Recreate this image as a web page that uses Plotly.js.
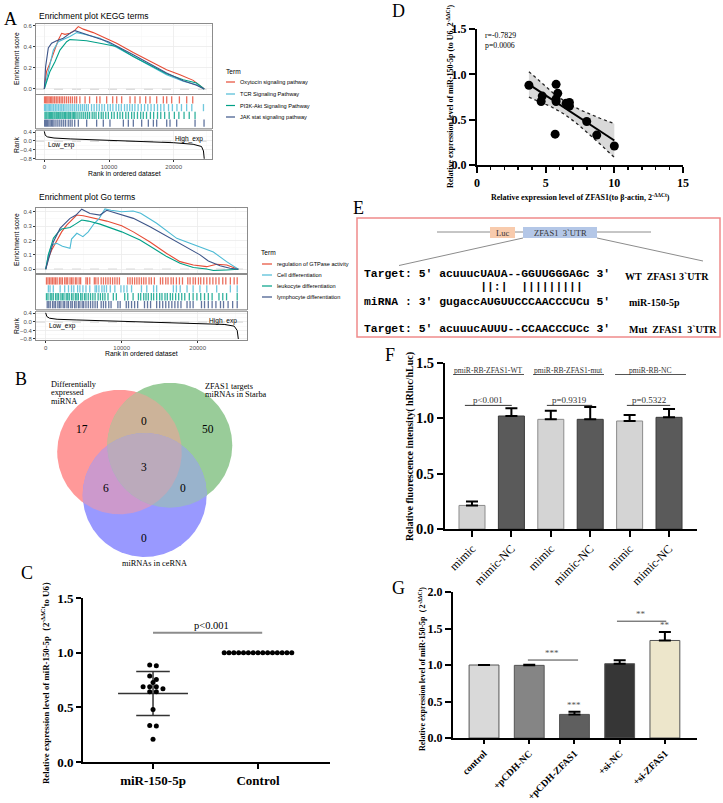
<!DOCTYPE html>
<html><head><meta charset="utf-8">
<script src="https://cdn.plot.ly/plotly-3.0.1.min.js"></script>
<style>html,body{margin:0;padding:0;background:#fff}#chart{width:723px;height:803px}</style>
</head><body><div id="chart"></div>
<script>
// ================= DATA =================
// Panel A - KEGG running enrichment scores (rank, ES)
const keggTerms = ['Oxytocin signaling pathway','TCR Signaling Pathway','PI3K-Akt Signaling Pathway','JAK stat signaling pathway'];
const keggOxyX = [0,350,875,1390,2160,2680,3190,3960,4740,5250,6030,7570,9890,11175,13750,16325,18900,20960,23020,24050,24720];
const keggOxyY = [0,0.167,0.246,0.34,0.467,0.53,0.52,0.53,0.56,0.594,0.57,0.537,0.467,0.436,0.347,0.262,0.183,0.136,0.082,0.032,0];
const keggTcrX = [0,360,875,1390,2160,2935,3960,5000,6030,8600,9890,13750,16325,18900,21475,23535,24720];
const keggTcrY = [0,0.10,0.21,0.37,0.45,0.47,0.50,0.537,0.524,0.483,0.44,0.31,0.22,0.136,0.073,0.04,0];
const keggPi3kX = [0,360,875,1650,2420,3450,3960,5000,6540,8600,9890,11175,13750,16325,18900,21475,23535,24720];
const keggPi3kY = [0,0.073,0.167,0.26,0.37,0.45,0.47,0.467,0.46,0.436,0.42,0.404,0.31,0.23,0.145,0.088,0.057,0];
const keggJakX = [0,200,620,1130,1900,2935,3960,4740,5500,7570,9890,13750,16325,18900,21475,23535,24720];
const keggJakY = [0,0.21,0.39,0.436,0.46,0.483,0.53,0.556,0.54,0.50,0.45,0.325,0.24,0.152,0.079,0.035,0];
// hit positions (thousands of ranks)
const keggHitsOxy = [0.04,0.2,0.38,0.56,0.75,0.95,1.15,1.35,1.6,1.85,2.1,2.35,2.6,2.85,3.15,3.45,3.75,4.05,4.35,4.7,5.0,5.5,6.3,7.0,8.09,8.6,9.64,10.57,11.19,11.96,13.25,14.02,14.79,15.67,16.34,17.37,18.4,18.92,19.69,20.88,22.01,22.94];
const keggHitsTcr = [0.04,0.2,0.4,0.6,0.8,1.0,1.2,1.45,1.7,1.95,2.2,2.45,2.7,2.95,3.2,3.5,3.8,4.1,4.4,4.7,5.0,5.3,5.6,5.9,6.2,6.5,6.8,7.3,7.7,8.1,8.5,8.9,9.3,9.8,10.2,10.6,11.1,11.5,11.9,12.4,12.8,13.2,13.6,14.0,14.5,15.0,15.5,16.0,16.5,17.0,17.5,18.0,18.5,19.2,19.8,20.5,21.2,22.0,22.8,24.6];
const keggHitsPi3k = [0.1,0.25,0.4,0.6,0.8,0.95,1.1,1.3,1.5,1.65,1.85,2.0,2.2,2.4,2.55,2.75,2.9,3.1,3.3,3.5,3.7,3.85,4.05,4.3,4.5,4.7,4.9,5.2,5.5,5.8,6.1,6.4,6.7,7.0,7.4,7.7,8.0,8.4,8.8,9.1,9.5,9.9,10.4,10.8,11.3,11.7,12.1,12.6,13.0,13.5,13.9,14.4,14.9,15.3,15.8,16.4,16.9,17.5,18.0,18.6,19.3,20.1,20.8,21.6,22.4,23.3];
const keggHitsJak = [0.05,0.2,0.35,0.5,0.7,0.9,1.1,1.3,1.5,1.8,2.1,2.4,2.7,3.0,3.3,3.7,4.0,4.3,4.7,5.26,6.55,8.09,9.12,10.15,12.22,12.99,13.76,15.05,16.08,16.86,17.37,18.92,19.43,20.46,23.3,24.69];
const keggRankX = [0,150,500,1500,4000,8000,12000,16000,20000,23000,24300,24600,24720];
const keggRankY = [0.43,0.25,0.18,0.13,0.09,0.05,0.01,-0.03,-0.08,-0.15,-0.25,-0.45,-0.8];

// Panel A - GO
const goTerms = ['regulation of GTPase activity','Cell differentiation','leukocyte differentiation','lymphocyte differentiation'];
const goGtpX = [0,350,790,1230,1670,2100,2760,3420,4080,4960,6270,8030,10000,11535,13730,15920,17680,19430,21180,22500,23820,24690,25350];
const goGtpY = [0,0.076,0.134,0.18,0.215,0.26,0.307,0.342,0.377,0.372,0.358,0.335,0.303,0.26,0.19,0.11,0.053,0.03,0.018,0.035,0.03,0.012,0];
const goCellX = [0,350,800,1450,2200,3200,3400,4100,4900,5600,6400,7000,7800,8600,10000,11500,12500,14600,17240,20300,22060,23800,25350];
const goCellY = [0,0.10,0.17,0.18,0.16,0.146,0.21,0.25,0.227,0.26,0.32,0.35,0.42,0.41,0.40,0.405,0.39,0.32,0.215,0.157,0.12,0.053,0];
const goLeukX = [0,350,1010,1670,2100,3200,3860,4740,5610,7150,10000,12410,14170,15920,17680,19430,21180,22060,23820,25350];
const goLeukY = [0,0.10,0.215,0.26,0.28,0.29,0.312,0.342,0.335,0.314,0.26,0.203,0.146,0.088,0.042,0.012,0.002,-0.009,-0.005,0];
const goLymphX = [0,350,1010,1890,2540,3200,3990,4740,5830,7150,8030,10000,11535,13730,17240,20310,21400,22060,22940,24250,25350];
const goLymphY = [0,0.065,0.19,0.284,0.319,0.354,0.377,0.418,0.388,0.377,0.41,0.377,0.354,0.296,0.19,0.10,0.058,0.042,0.025,0.007,0];
const goHitsGtp = [0.1,0.3,0.5,0.7,0.9,1.1,1.3,1.5,1.8,2.0,2.2,2.5,2.7,2.9,3.2,3.4,3.6,3.9,4.1,4.4,4.6,5.3,5.5,5.8,6.4,6.6,6.9,7.3,7.6,7.9,8.2,8.5,8.8,9.1,9.4,9.7,10.8,11.1,11.4,11.7,12.0,12.3,12.6,12.9,13.2,13.6,13.9,14.3,15.1,15.4,15.8,16.1,16.5,16.8,17.2,17.6,18.0,18.7,19.0,19.4,19.7,20.1,20.4,20.8,21.2,21.6,22.0,22.4,22.8,23.3,23.7,24.3,24.8,25.2];
const goHitsCell = [0.35,0.57,1.0,1.9,2.5,3.0,3.4,3.7,4.2,4.5,4.9,5.3,5.8,6.5,6.7,7.0,7.4,7.7,8.0,8.5,9.1,9.9,10.3,10.7,11.3,12.6,13.3,14.2,14.6,16.8,17.2,17.7,18.6,19.4,20.3,21.2,22.5,24.3,25.2];
const goHitsLeuk = [0.1,0.3,0.6,0.8,1.0,1.3,1.5,1.7,2.0,2.2,2.4,2.7,2.9,3.1,3.4,3.6,3.9,4.1,4.3,4.6,4.8,5.1,5.3,5.6,5.9,6.2,6.5,6.9,7.2,7.5,7.8,8.2,8.9,9.3,10.4,10.8,11.5,12.2,12.5,12.9,13.2,13.5,13.9,14.2,14.6,15.0,15.3,15.7,16.0,16.4,16.7,17.1,17.5,17.9,18.3,18.9,19.4,19.9,20.4,20.9,21.4,21.9,22.8,23.3,23.8,25.2];
const goHitsLymph = [0.2,0.4,0.6,0.9,1.1,1.3,1.6,1.8,2.0,2.3,2.5,2.8,3.0,3.3,3.5,3.8,4.0,4.3,4.5,4.8,5.0,5.3,5.6,5.9,6.2,6.5,6.8,7.3,7.6,7.9,8.3,8.6,9.5,9.8,10.6,10.9,11.3,11.7,12.1,13.0,13.4,13.8,14.6,15.0,15.4,15.8,16.2,16.6,17.0,17.4,17.8,18.6,19.0,19.4,20.5,20.9,21.4,21.9,22.4,23.0,23.4,24.0,24.6,25.2];
const goRankX = [0,150,500,1500,4000,8000,12000,16000,20000,23500,24800,25200,25350];
const goRankY = [0.42,0.25,0.17,0.12,0.09,0.05,0.02,-0.02,-0.06,-0.12,-0.2,-0.4,-0.8];

// Panel B - Venn
const vennSetLabels = [['Differentially','expressed','miRNA'],['ZFAS1 targets','miRNAs in Starba'],['miRNAs in ceRNA']];
const vennRegionIds = ['100','010','110','001','101','011','111'];
const vennCounts = [17,50,0,0,6,0,3];

// Panel C
const cCats = ['miR-150-5p','Control'];
const cMir = [0.887,0.881,0.786,0.755,0.728,0.688,0.688,0.688,0.670,0.642,0.642,0.480,0.330,0.333,0.208];
const cCtrl = [1,1,1,1,1,1,1,1,1,1,1,1,1,1,1];
const cPText = 'p&lt;0.001';

// Panel D
const dX = [3.78,5.76,5.88,4.75,5.76,5.76,4.67,6.49,6.73,6.73,7.99,5.69,8.72,10.0,6.60];
const dY = [0.88,0.89,0.79,0.76,0.73,0.70,0.70,0.68,0.69,0.65,0.48,0.34,0.33,0.21,0.66];
const dStats = ['r=-0.7829','p=0.0006'];
const dT = 2.160; // t(0.975, df=13)

// Panel E
const eSeqLines = ["Target: 5' acuuucUAUA--GGUUGGGAGc 3'", "miRNA : 3' gugaccAUGUUCCCAACCCUCu 5\u2032", "Target: 5' acuuucAUUU--CCAACCCUCc 3'"];
const ePairs = "                 ||:|  |||||||||";
const eLabels = ['WT  ZFAS1 3`UTR','miR-150-5p','Mut  ZFAS1  3`UTR'];

// Panel F
const fLabels = ['mimic','mimic-NC','mimic','mimic-NC','mimic','mimic-NC'];
const fVals = [0.213,1.021,0.991,0.991,0.976,1.009];
const fErr = [0.036,0.069,0.078,0.111,0.054,0.075];
const fGroups = ['pmiR-RB-ZFAS1-WT','pmiR-RB-ZFAS1-mut','pmiR-RB-NC'];
const fPvals = ['p&lt;0.001','p=0.9319','p=0.5322'];

// Panel G
const gLabels = ['control','+pCDH-NC','+pCDH-ZFAS1','+si-NC','+si-ZFAS1'];
const gVals = [1.0,0.995,0.323,1.018,1.336];
const gErr = [0,0.01,0.036,0.047,0.115];

// ================= STYLE / LAYOUT =================
const W=723,H=803;
const DX=(a,b)=>[a/W,b/W];
const DY=(t,b)=>[1-b/H,1-t/H];
const gseaColors = ['#E64B35','#4DBBD5','#00A087','#3C5488'];
const gTick = {family:'Liberation Sans',size:6,color:'#4D4D4D'};
const sans = s=>({family:'Liberation Sans',size:s,color:'#000'});
const serif = (s,b,c)=>({family:'Liberation Serif',size:s,color:c||'#000',weight:b?'bold':'normal'});

const traces=[];
const shapes=[];
const annotations=[];
function T(x,y,text,font,opt){return Object.assign({xref:'x11',yref:'y11',x,y,text,showarrow:false,xanchor:'center',yanchor:'middle',font},opt||{});}
function L(x0,y0,x1,y1,color,width,opt){return Object.assign({type:'line',xref:'x11',yref:'y11',x0,y0,x1,y1,line:{color,width}},opt||{});}

function gseaX(x0,x1,range,anchor,labels,grid){
  return {domain:DX(x0,x1),range,anchor,tick0:0,dtick:10000,tickformat:'d',showticklabels:labels,
    ticks:labels?'outside':'',ticklen:2,tickcolor:'#333',tickfont:gTick,showgrid:grid,gridcolor:'#EBEBEB',gridwidth:0.8,
    minor:{dtick:5000,showgrid:grid,gridcolor:'#F5F5F5',gridwidth:0.5},
    showline:true,mirror:true,linecolor:'#8C8C8C',linewidth:1,zeroline:false,automargin:false,fixedrange:true};
}
function gseaY(t,b,range,anchor,dtick,minorD,labels){
  return {domain:DY(t,b),range,anchor,tick0:0,dtick,tickformat:'.1f',showticklabels:labels,ticks:labels?'outside':'',
    ticklen:2,tickcolor:'#333',tickfont:gTick,showgrid:labels,gridcolor:'#EBEBEB',gridwidth:0.8,
    minor:{dtick:minorD,showgrid:labels,gridcolor:'#F5F5F5',gridwidth:0.5},
    showline:true,mirror:true,linecolor:'#8C8C8C',linewidth:1,zeroline:false,automargin:false,fixedrange:true};
}
function gpAxis(dom,range,anchor,extra){
  return Object.assign({domain:dom,range,anchor,showline:true,linecolor:'#000',linewidth:2,ticks:'outside',ticklen:5,
    tickwidth:2,tickcolor:'#000',showgrid:false,zeroline:false,automargin:false,fixedrange:true},extra);
}

// ---------- Panel A : GSEA ----------
function gseaBlock(curves,hits,rankX,rankY,ax){
  curves.forEach((c,i)=>traces.push({type:'scatter',mode:'lines',x:c[0],y:c[1],xaxis:ax[0],yaxis:ax[1],
    line:{color:gseaColors[i],width:1.1},hoverinfo:'skip'}));
  hits.forEach((h,i)=>{
    const row=3-i,x=[],y=[];
    h.forEach(v=>{x.push(v*1000,v*1000,null);y.push(row+0.04,row+0.96,null);});
    traces.push({type:'scatter',mode:'lines',x,y,xaxis:ax[2],yaxis:ax[3],line:{color:gseaColors[i],width:1.3},opacity:0.8,hoverinfo:'skip'});
  });
  traces.push({type:'scatter',mode:'lines',x:rankX,y:rankY,xaxis:ax[4],yaxis:ax[5],line:{color:'#000',width:1},hoverinfo:'skip'});
  shapes.push({type:'line',xref:ax[0]+' domain',yref:ax[1],x0:0,x1:1,y0:0,y1:0,line:{color:'#A0A0A0',width:0.8,dash:'dash'},layer:'below'});
  shapes.push({type:'line',xref:ax[4]+' domain',yref:ax[5],x0:0,x1:1,y0:0,y1:0,line:{color:'#A0A0A0',width:0.8,dash:'dash'},layer:'below'});
}
gseaBlock([[keggOxyX,keggOxyY],[keggTcrX,keggTcrY],[keggPi3kX,keggPi3kY],[keggJakX,keggJakY]],
  [keggHitsOxy,keggHitsTcr,keggHitsPi3k,keggHitsJak],keggRankX,keggRankY,['x','y','x2','y2','x3','y3']);
gseaBlock([[goGtpX,goGtpY],[goCellX,goCellY],[goLeukX,goLeukY],[goLymphX,goLymphY]],
  [goHitsGtp,goHitsCell,goHitsLeuk,goHitsLymph],goRankX,goRankY,['x4','y4','x5','y5','x6','y6']);

const layout={width:W,height:H,margin:{l:0,r:0,t:0,b:0},paper_bgcolor:'#fff',plot_bgcolor:'rgba(0,0,0,0)',showlegend:false,
  font:{family:'Liberation Serif',color:'#000'}};
const keggR=[-1283,25920], goR=[-1276,26490];
layout.xaxis = gseaX(36,212,keggR,'y',false,true);
layout.yaxis = gseaY(24,94,[-0.048,0.619],'x',0.2,0.1,true);
layout.xaxis2 = gseaX(36,212,keggR,'y2',false,false);
layout.yaxis2 = gseaY(95,128,[-0.13,4.13],'x2',1,1,false);
layout.xaxis3 = gseaX(36,212,keggR,'y3',true,true);
layout.yaxis3 = gseaY(131,159,[-0.81,0.445],'x3',0.4,0.2,true);
layout.xaxis4 = gseaX(36,247,goR,'y4',false,true);
layout.yaxis4 = gseaY(208,273,[-0.026,0.426],'x4',0.1,0.05,true);
layout.xaxis5 = gseaX(36,247,goR,'y5',false,false);
layout.yaxis5 = gseaY(275,309,[-0.05,4.25],'x5',1,1,false);
layout.xaxis6 = gseaX(36,247,goR,'y6',true,true);
layout.yaxis6 = gseaY(312,340,[-0.847,0.46],'x6',0.4,0.2,true);

// separator bands
shapes.push({type:'rect',xref:'x11',yref:'y11',x0:36,x1:212,y0:128.5,y1:130.5,fillcolor:'#C8C8C8',line:{width:0}});
shapes.push({type:'rect',xref:'x11',yref:'y11',x0:36,x1:247,y0:309.5,y1:311.5,fillcolor:'#C8C8C8',line:{width:0}});

// GSEA texts
annotations.push(T(37,16,'Enrichment plot KEGG terms',sans(8.5),{xanchor:'left'}));
annotations.push(T(37,197,'Enrichment plot Go terms',sans(8.5),{xanchor:'left'}));
annotations.push(T(16,59,'Enrichment score',sans(6.8),{textangle:-90}));
annotations.push(T(16,145,'Rank',sans(6.8),{textangle:-90}));
annotations.push(T(16,240,'Enrichment score',sans(6.8),{textangle:-90}));
annotations.push(T(16,326,'Rank',sans(6.8),{textangle:-90}));
annotations.push(T(124,173,'Rank in ordered dataset',sans(6.8)));
annotations.push(T(141.5,353,'Rank in ordered dataset',sans(6.8)));
annotations.push(T(46,144.5,'Low_exp',sans(6.6),{xanchor:'left'}));
annotations.push(T(205,139,'High_exp',sans(6.6),{xanchor:'right'}));
annotations.push(T(47,326,'Low_exp',sans(6.6),{xanchor:'left'}));
annotations.push(T(239,321,'High_exp',sans(6.6),{xanchor:'right'}));
// legends
function gseaLegend(terms,tx,ty,lx0,lx1,txt,ys){
  annotations.push(T(tx,ty,'Term',sans(6.6),{xanchor:'left'}));
  terms.forEach((t,i)=>{
    shapes.push(L(lx0,ys[i],lx1,ys[i],gseaColors[i],1.2));
    annotations.push(T(txt,ys[i],t,sans(5.6),{xanchor:'left'}));
  });
}
gseaLegend(keggTerms,224,71,226,235,238,[82,94,105.5,117]);
gseaLegend(goTerms,259,252,262,272,275,[264,275,286,297]);

// ---------- Panel B : Venn ----------
const vennCirc=[{cx:119.5,cy:452,r:62.3},{cx:169.8,cy:445.2,r:62.5},{cx:144.7,cy:495,r:62}];
const vennColors={'100':'#ff9999','010':'#99cc99','001':'#9999ff','110':'#ccb399','101':'#cc99cc','011':'#99b3cc','111':'#bbaabb'};
const vennTextPos={'100':[82,429],'010':[208,429],'110':[144,421],'001':[144,538],'101':[106,488],'011':[183,488],'111':[144,467]};
function circPts(c,n){const p=[];for(let k=0;k<n;k++){const t=2*Math.PI*k/n;p.push([c.cx+c.r*Math.cos(t),c.cy+c.r*Math.sin(t)]);}return p;}
function inC(p,c){return Math.hypot(p[0]-c.cx,p[1]-c.cy)<=c.r+1e-6;}
function regionPoly(idx){
  let pts=[];
  idx.forEach(i=>circPts(vennCirc[i],720).forEach(p=>{if(idx.every(j=>j===i||inC(p,vennCirc[j])))pts.push(p);}));
  const mx=pts.reduce((s,p)=>s+p[0],0)/pts.length,my=pts.reduce((s,p)=>s+p[1],0)/pts.length;
  pts.sort((a,b)=>Math.atan2(a[1]-my,a[0]-mx)-Math.atan2(b[1]-my,b[0]-mx));
  pts.push(pts[0]);return pts;
}
[[[0],'100'],[[1],'010'],[[2],'001'],[[0,1],'110'],[[0,2],'101'],[[1,2],'011'],[[0,1,2],'111']].forEach(([idx,id])=>{
  const p=regionPoly(idx);
  traces.push({type:'scatter',mode:'lines',x:p.map(q=>q[0]),y:p.map(q=>q[1]),xaxis:'x11',yaxis:'y11',fill:'toself',
    fillcolor:vennColors[id],line:{width:0,color:vennColors[id]},hoverinfo:'skip'});
});
vennRegionIds.forEach((id,i)=>annotations.push(T(vennTextPos[id][0],vennTextPos[id][1],String(vennCounts[i]),serif(11.5))));
[384.3,392.7,401].forEach((y,i)=>annotations.push(T(49,y,vennSetLabels[0][i],serif(8.3),{xanchor:'left'})));
[386,394.3].forEach((y,i)=>annotations.push(T(202.5,y,vennSetLabels[1][i],serif(8.3),{xanchor:'left'})));
annotations.push(T(154,563,vennSetLabels[2][0],serif(8.3)));

// ---------- Panel C ----------
function swarm(vals,tol,step,stepDense){
  const idx=vals.map((v,i)=>i).sort((a,b)=>vals[b]-vals[a]);const off=new Array(vals.length).fill(0);let g=[];
  const flush=()=>{const s=g.length>8?stepDense:step;g.forEach((k,j)=>off[k]=(j-(g.length-1)/2)*s);g=[];};
  idx.forEach(k=>{if(g.length&&vals[g[0]]-vals[k]>tol)flush();g.push(k);});flush();return off;
}
function meanSd(v){const m=v.reduce((a,b)=>a+b,0)/v.length;const sd=Math.sqrt(v.reduce((a,b)=>a+(b-m)*(b-m),0)/(v.length-1));return [m,sd];}
[cMir,cCtrl].forEach((vals,gi)=>{
  const xc=gi+1,[m,sd]=meanSd(vals);
  const segs=[[xc-0.333,m,xc+0.333,m],[xc-0.16,m+sd,xc+0.16,m+sd],[xc-0.16,m-sd,xc+0.16,m-sd],[xc,m-sd,xc,m+sd]];
  const x=[],y=[];segs.forEach(s=>{x.push(s[0],s[2],null);y.push(s[1],s[3],null);});
  traces.push({type:'scatter',mode:'lines',x,y,xaxis:'x7',yaxis:'y7',line:{color:'#333',width:1.5},hoverinfo:'skip'});
  const off=swarm(vals,0.035,0.063,0.046);
  traces.push({type:'scatter',mode:'markers',x:vals.map((v,i)=>xc+off[i]),y:vals,xaxis:'x7',yaxis:'y7',
    marker:{color:'#000',size:5},hoverinfo:'skip'});
});
layout.xaxis7=gpAxis(DX(83,330),[0.333,2.686],'y7',{tickvals:[1,2],ticktext:cCats,tickfont:serif(13,true)});
layout.yaxis7=gpAxis(DY(598,762),[0,1.5],'x7',{tick0:0,dtick:0.5,tickformat:'.1f',tickfont:serif(13,true)});
shapes.push({type:'line',xref:'x7',yref:'y7',x0:1,x1:2.04,y0:1.183,y1:1.183,line:{color:'#8C8C8C',width:2}});
annotations.push({xref:'x7',yref:'y7',x:1.56,y:1.253,text:cPText,showarrow:false,font:serif(10.5)});
annotations.push(T(45,681,'Relative expression level of miR-150-5p（2<sup>-ΔΔCt</sup>to U6）',serif(8.8,true),{textangle:-90}));

// ---------- Panel D ----------
(function(){
  const n=dX.length,mx=dX.reduce((a,b)=>a+b,0)/n,my=dY.reduce((a,b)=>a+b,0)/n;
  let sxx=0,sxy=0;dX.forEach((x,i)=>{sxx+=(x-mx)*(x-mx);sxy+=(x-mx)*(dY[i]-my);});
  const b=sxy/sxx,a=my-b*mx;let sse=0;dX.forEach((x,i)=>{const r=dY[i]-(a+b*x);sse+=r*r;});
  const s=Math.sqrt(sse/(n-2));const x0=Math.min(...dX),x1=Math.max(...dX);
  const gx=[],up=[],lo=[];
  for(let k=0;k<=60;k++){const x=x0+(x1-x0)*k/60;const se=s*Math.sqrt(1/n+(x-mx)*(x-mx)/sxx);gx.push(x);up.push(a+b*x+dT*se);lo.push(a+b*x-dT*se);}
  traces.push({type:'scatter',mode:'lines',x:gx,y:up,xaxis:'x8',yaxis:'y8',line:{color:'#222',width:1.3,dash:'dot'},hoverinfo:'skip'});
  traces.push({type:'scatter',mode:'lines',x:gx,y:lo,xaxis:'x8',yaxis:'y8',fill:'tonexty',fillcolor:'#D9D9D9',line:{color:'#222',width:1.3,dash:'dot'},hoverinfo:'skip'});
  traces.push({type:'scatter',mode:'lines',x:[x0,x1],y:[a+b*x0,a+b*x1],xaxis:'x8',yaxis:'y8',line:{color:'#000',width:2},hoverinfo:'skip'});
  traces.push({type:'scatter',mode:'markers',x:dX,y:dY,xaxis:'x8',yaxis:'y8',marker:{color:'#000',size:9},hoverinfo:'skip'});
})();
layout.xaxis8=gpAxis(DX(477,683),[0,15],'y8',{tick0:0,dtick:5,tickfont:serif(12,true),ticklen:6,
  minor:{dtick:1,ticks:'outside',ticklen:3,tickwidth:1.5,tickcolor:'#000'}});
layout.yaxis8=gpAxis(DY(29,165),[0,1.5],'x8',{tick0:0,dtick:0.5,tickformat:'.1f',tickfont:serif(12,true),ticklen:6});
annotations.push(T(483,35,dStats[0],serif(7.8),{xanchor:'left'}));
annotations.push(T(483,45,dStats[1],serif(7.8),{xanchor:'left'}));
annotations.push(T(450,97,'Relative expression level of miR-150-5p (to U6, 2<sup>-ΔΔCt</sup>)',serif(8,true),{textangle:-90}));
annotations.push(T(580,197,'Relative expression level of ZFAS1(to β-actin, 2<sup>-ΔΔCt</sup>)',serif(8,true)));

// ---------- Panel E ----------
shapes.push({type:'rect',xref:'x11',yref:'y11',x0:357,x1:720,y0:218,y1:337,line:{color:'#F08A8A',width:1.5}});
shapes.push(L(437,232,651,232,'#8C8C8C',1));
shapes.push(L(523,238,399,265.5,'#8C8C8C',1));
shapes.push(L(597,238,703,261,'#8C8C8C',1));
shapes.push({type:'rect',xref:'x11',yref:'y11',x0:490,x1:515,y0:227,y1:238,fillcolor:'#F8CBAD',line:{width:0}});
shapes.push({type:'rect',xref:'x11',yref:'y11',x0:523,x1:597,y0:227,y1:238,fillcolor:'#B4C7E7',line:{width:0}});
annotations.push(T(502.5,232.5,'Luc',serif(8.5,false,'#333')));
annotations.push(T(560,232.5,'ZFAS1\u00A0\u00A03`UTR',serif(8.5,false,'#333')));
const mono={family:'Liberation Mono',size:11.4,color:'#000',weight:'bold'};
const nb=s=>s.replace(/ /g,'\u00A0');
annotations.push(T(362,274,nb(eSeqLines[0]),mono,{xanchor:'left'}));
annotations.push(T(362,287,nb(ePairs),mono,{xanchor:'left'}));
annotations.push(T(362,302,nb(eSeqLines[1]),mono,{xanchor:'left'}));
annotations.push(T(362,329,nb(eSeqLines[2]),mono,{xanchor:'left'}));
annotations.push(T(623,276,nb(eLabels[0]),serif(10,true),{xanchor:'left'}));
annotations.push(T(627,302,nb(eLabels[1]),serif(10,true),{xanchor:'left'}));
annotations.push(T(627,329,nb(eLabels[2]),serif(10,true),{xanchor:'left'}));

// ---------- Panel F ----------
const fx=fLabels.map((l,i)=>i+1);
traces.push({type:'bar',x:fx,y:fVals,xaxis:'x9',yaxis:'y9',width:0.66,
  marker:{color:fx.map(i=>i%2?'#D4D4D4':'#5A5A5A'),line:{color:fx.map(i=>i%2?'#8C8C8C':'#3A3A3A'),width:1}},
  error_y:{type:'data',symmetric:false,array:fErr,arrayminus:fErr.map(()=>0),color:'#000',thickness:2,width:6},hoverinfo:'skip'});
layout.xaxis9=gpAxis(DX(445,697),[0.315,6.71],'y9',{tickvals:fx,ticktext:fLabels,tickangle:-45,tickfont:serif(12),ticklen:6});
layout.yaxis9=gpAxis(DY(363,529),[0,1.5],'x9',{tick0:0,dtick:0.5,tickformat:'.1f',tickfont:serif(14.5,true),ticklen:6});
const fGroupLines=[[0.52,2.32],[2.55,4.35],[4.63,6.43]], fPLines=[[0.82,2.01],[2.90,4.05],[4.93,6.03]];
fGroups.forEach((g,i)=>{
  shapes.push({type:'line',xref:'x9',yref:'y9',x0:fGroupLines[i][0],x1:fGroupLines[i][1],y0:1.396,y1:1.396,line:{color:'#555',width:1}});
  annotations.push({xref:'x9',yref:'y9',x:(fGroupLines[i][0]+fGroupLines[i][1])/2,y:1.432,text:g,showarrow:false,font:serif(7.6,false,'#333')});
  shapes.push({type:'line',xref:'x9',yref:'y9',x0:fPLines[i][0],x1:fPLines[i][1],y0:1.117,y1:1.117,line:{color:'#333',width:1}});
  annotations.push({xref:'x9',yref:'y9',x:(fPLines[i][0]+fPLines[i][1])/2,y:1.162,text:fPvals[i],showarrow:false,font:serif(9,false,'#333')});
});
annotations.push(T(410,447,'Relative fluorescence intensity( hRluc/hLuc)',serif(10,true),{textangle:-90}));

// ---------- Panel G ----------
const gx=gLabels.map((l,i)=>i+1);
const gFill=['#D9D9D9','#858585','#5F5F5F','#363636','#EDE6CB'];
traces.push({type:'bar',x:gx,y:gVals,xaxis:'x10',yaxis:'y10',width:0.66,
  marker:{color:gFill,line:{color:'#555',width:1}},
  error_y:{type:'data',symmetric:false,array:gErr,arrayminus:gErr.map(()=>0),color:'#000',thickness:2,width:6},hoverinfo:'skip'});
layout.xaxis10=gpAxis(DX(453,697),[0.314,5.71],'y10',{tickvals:gx,ticktext:gLabels,tickangle:-45,tickfont:serif(9.8,true),ticklen:4});
layout.yaxis10=gpAxis(DY(592,738),[0,2],'x10',{tick0:0,dtick:0.5,tickformat:'.1f',tickfont:serif(12,true),ticklen:6});
annotations.push({xref:'x10',yref:'y10',x:3,y:gVals[2]+gErr[2],text:'***',showarrow:false,yanchor:'bottom',font:serif(9,false,'#555')});
annotations.push({xref:'x10',yref:'y10',x:5,y:gVals[4]+gErr[4],text:'**',showarrow:false,yanchor:'bottom',font:serif(9,false,'#555')});
shapes.push({type:'line',xref:'x10',yref:'y10',x0:1.97,x1:3.08,y0:1.068,y1:1.068,line:{color:'#444',width:1}});
shapes.push({type:'line',xref:'x10',yref:'y10',x0:3.94,x1:5.03,y0:1.60,y1:1.60,line:{color:'#444',width:1}});
annotations.push({xref:'x10',yref:'y10',x:2.5,y:1.068,text:'***',showarrow:false,yanchor:'bottom',font:serif(9,false,'#555')});
annotations.push({xref:'x10',yref:'y10',x:4.47,y:1.60,text:'**',showarrow:false,yanchor:'bottom',font:serif(9,false,'#555')});
annotations.push(T(422,669,'Relative expression level of miR-150-5p（2<sup>-ΔΔCt</sup>)',serif(8,true),{textangle:-90}));

// ---------- Panel letters ----------
[['A',10,19],['B',21,379],['C',27,573],['D',398,11],['E',358,208],['F',390,355],['G',398,588]].forEach(p=>
  annotations.push(T(p[1],p[2],p[0],serif(18))));

// overlay axes
layout.xaxis11={domain:[0,1],range:[0,W],anchor:'y11',visible:false,fixedrange:true};
layout.yaxis11={domain:[0,1],range:[H,0],anchor:'x11',visible:false,fixedrange:true};
layout.shapes=shapes;
layout.annotations=annotations;

Plotly.newPlot('chart',traces,layout,{staticPlot:true,displayModeBar:false});
</script></body></html>
